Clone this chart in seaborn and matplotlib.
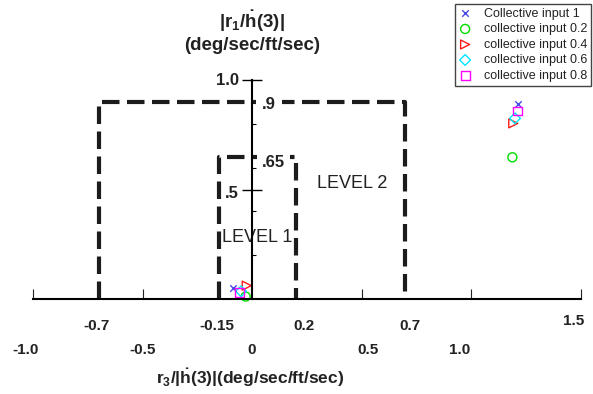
import numpy as np
import pandas as pd
import matplotlib
matplotlib.use("Agg")
import matplotlib.pyplot as plt
import seaborn as sns

# ---------------- data ----------------
series = ["Collective input 1", "collective input 0.2", "collective input 0.4",
          "collective input 0.6", "collective input 0.8"]
x_low = [-0.088, -0.029, -0.024, -0.050, -0.058]
y_low = [0.052, 0.011, 0.061, 0.035, 0.029]
x_high = [1.216, 1.189, 1.193, 1.201, 1.212]
y_high = [0.889, 0.647, 0.802, 0.825, 0.858]

level1_x = [-0.15, 0.2]
level1_y = 0.65
level2_x = [-0.7, 0.7]
level2_y = 0.9

xtick_major = [-1.0, -0.5, 0.5, 1.0, 1.5]
xlab_row2_vals = [-1.0, -0.5, 0.0, 0.5, 1.0]
xlab_row2_text = ["-1.0", "-0.5", "0", "0.5", "1.0"]
xlab_row1_vals = [-0.7, -0.15, 0.2, 0.7, 1.5]
xlab_row1_text = ["-0.7", "-0.15", "0.2", "0.7", "1.5"]
ytick_major = [0.5, 1.0]
ytick_minor = [0.2, 0.4, 0.6, 0.8]

# ---------------- style ----------------
sns.set_style("white")
plt.rcParams["font.family"] = ["Liberation Sans", "DejaVu Sans"]
plt.rcParams["mathtext.fontset"] = "custom"
plt.rcParams["mathtext.rm"] = "Liberation Sans:bold"
plt.rcParams["mathtext.it"] = "Liberation Sans:bold"
plt.rcParams["mathtext.bf"] = "Liberation Sans:bold"

W, H = 593, 394
X0, Y0, S = 252.0, 299.0, 219.0  # pixel of origin, pixels per unit

def dx(px):
    return (px - X0) / S

def dy(py):
    return (Y0 - py) / S

fig = plt.figure(figsize=(W / 100, H / 100), dpi=100)
ax = fig.add_axes([0, 0, 1, 1])
ax.set_facecolor("white")
ax.set_xlim(dx(0), dx(W))
ax.set_ylim(dy(H), dy(0))

# spines through origin
for s in ["top", "right"]:
    ax.spines[s].set_visible(False)
ax.spines["left"].set_position(("data", 0))
ax.spines["bottom"].set_position(("data", 0))
ax.spines["left"].set_bounds(0, 1.0)
ax.spines["bottom"].set_bounds(-1.0, 1.5)
for s in ["left", "bottom"]:
    ax.spines[s].set_linewidth(1.5)
    ax.spines[s].set_color("black")
    ax.spines[s].set_zorder(6)

ax.set_xticks(xtick_major)
ax.tick_params(axis="x", which="major", bottom=True, top=False, direction="in",
               length=7.5, width=0.8, color="#222222", labelbottom=False)
ax.set_yticks(ytick_major)
ax.set_yticks(ytick_minor, minor=True)
ax.tick_params(axis="y", which="major", left=True, right=False, direction="inout",
               length=14, width=1.0, color="black", labelleft=False)
ax.tick_params(axis="y", which="minor", left=True, right=False, direction="in",
               length=3, width=0.8, color="black")
ax.yaxis.get_major_ticks()[0].tick1line.set_color("#888888")
ax.set_xlabel("")
ax.set_ylabel("")
ax.grid(False)

# ---------------- level boundaries ----------------
box_kw = dict(color="#1c1c1c", lw=3.0, linestyle=(0, (4.2, 1.8)),
              dash_capstyle="butt", solid_capstyle="butt", zorder=2, clip_on=False)
ax.plot([level2_x[0], level2_x[0], level2_x[1], level2_x[1]],
        [0, level2_y, level2_y, 0], **box_kw)
ax.plot([level1_x[0], level1_x[0], level1_x[1], level1_x[1]],
        [0, level1_y, level1_y, 0], **box_kw)

lab_kw = dict(fontsize=12, fontweight="bold", color="#222222", va="center")
ax.text(dx(262), level2_y - 0.012, ".9", ha="left",
        bbox=dict(facecolor="white", edgecolor="none", boxstyle="square,pad=0.35"),
        zorder=3, **lab_kw)
ax.text(dx(262), level1_y - 0.028, ".65", ha="left",
        bbox=dict(facecolor="white", edgecolor="none", boxstyle="square,pad=0.3"),
        zorder=3, **lab_kw)
ax.text(dx(239), 1.0, "1.0", ha="right", zorder=3, **lab_kw)
ax.text(dx(239), 0.5 - 0.016, ".5", ha="right", zorder=3, **lab_kw)

ax.text(dx(352), dy(183), "LEVEL 2", fontsize=13, color="#222222",
        ha="center", va="center")
ax.text(dx(257), dy(237), "LEVEL 1", fontsize=13, color="#222222",
        ha="center", va="center")

# x labels (two rows)
row2_off = [-7, 0, 0, 6, -11]
for v, t, o in zip(xlab_row2_vals, xlab_row2_text, row2_off):
    ax.text(v + o / S, dy(349.5), t, fontsize=11, fontweight="bold",
            color="#222222", ha="center", va="center")
row1_off = [-2, -2, 8, 5, -7]
row1_y = [326, 326, 326, 326, 321]
for v, t, o, yy in zip(xlab_row1_vals, xlab_row1_text, row1_off, row1_y):
    ax.text(v + o / S, dy(yy), t, fontsize=11, fontweight="bold",
            color="#222222", ha="center", va="center")

ax.text(dx(250), dy(378), r"r$_3$/|$\dot{h}$(3)|(deg/sec/ft/sec)",
        fontsize=12.5, fontweight="bold", color="#222222", ha="center", va="center")
ax.text(0, dy(21), r"|r$_1$/$\dot{h}$(3)|", fontsize=13.5, fontweight="bold",
        color="#222222", ha="center", va="center")
ax.text(0, dy(45), "(deg/sec/ft/sec)", fontsize=13.5, fontweight="bold",
        color="#222222", ha="center", va="center")

# ---------------- data points ----------------
df = pd.DataFrame({
    "series": series * 2,
    "x": x_low + x_high,
    "y": y_low + y_high,
})
markers = ["x", "o", ">", "D", "s"]
colors = ["#4a4ae8", "#00dd00", "#ff1a1a", "#00e5ff", "#ff00ff"]
sizes = [22, 42, 42, 30, 40]
for name, m, c, sz in zip(series, markers, colors, sizes):
    sub = df[df["series"] == name]
    if m == "x":
        sns.scatterplot(data=sub, x="x", y="y", marker=m, s=sz, color=c,
                        linewidth=1.0, label=name, ax=ax, zorder=5, clip_on=False)
    else:
        sns.scatterplot(data=sub, x="x", y="y", marker=m, s=sz, facecolors="none",
                        edgecolors=c, linewidth=1.0, label=name, ax=ax, zorder=5,
                        clip_on=False)
ax.set_xlabel("")
ax.set_ylabel("")

handles, labels = ax.get_legend_handles_labels()
leg = ax.legend(handles, labels, loc="upper right",
                bbox_to_anchor=(591 / W, 1 - 4 / H), bbox_transform=fig.transFigure,
                fontsize=9, frameon=True, fancybox=False, framealpha=1,
                edgecolor="#444444", borderpad=0.3, labelspacing=0.28,
                handlelength=1.0, handletextpad=1.0, borderaxespad=0)
leg.get_frame().set_linewidth(1.0)
for t in leg.get_texts():
    t.set_color("#222222")

fig.savefig("out.png", dpi=100)
